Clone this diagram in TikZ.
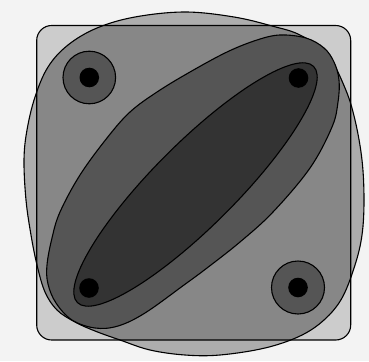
\documentclass[tikz,border=0pt]{standalone}
\definecolor{bgc}{HTML}{F3F3F3}
\definecolor{sqc}{HTML}{CCCCCC}
\definecolor{blobc}{HTML}{ADADAD}
\definecolor{ovc}{HTML}{878787}
\definecolor{lobec}{HTML}{555555}
\definecolor{lensc}{HTML}{333333}
\tikzset{
  outline/.style={draw=black, line width=1.1pt, line join=round},
}
\newcommand\blobpath{plot[smooth cycle, tension=0.6] coordinates {
 (185,12) (234,17) (272,26) (300,35) (327,54) (345,88) (355,120) (362,160)
 (364,200) (362,235) (355,265) (342,298) (324,320) (300,336) (265,348)
 (220,355) (185,355) (150,350) (120,340) (95,331) (75,322) (57,310)
 (45,292) (37,265) (31,235) (26,200) (24,160) (27,130) (35,97) (48,67)
 (68,45) (97,28) (135,17)}}
\newcommand\squarepath{[rounded corners=15pt] (36.7,25.5) rectangle (350.7,340)}
\begin{document}
\begin{tikzpicture}[x=1pt,y=-1pt]
\useasboundingbox (0,0) rectangle (369,361);
\fill[bgc] (0,0) rectangle (369,361);
% square and blob fills
\fill[sqc] \squarepath;
\fill[blobc] \blobpath;
\begin{scope}
  \clip \squarepath;
  \fill[ovc] \blobpath;
\end{scope}
\path[outline] \squarepath;
\path[outline] \blobpath;
% diagonal lobe
\path[outline, fill=lobec] plot[smooth cycle, tension=0.6] coordinates {
 (280,35) (306,38) (324,48) (334,62) (339,80) (338,102) (332,127) (310,168)
 (273,212) (240,242) (207,268) (184,285) (145,313) (118,326) (95,328)
 (72,320) (56,303) (48,284) (47,265) (52,238) (60,212) (80,175) (107,138)
 (130,112) (157,92) (190,72) (227,52) (257,40)};
% inner lens
\coordinate (lc) at (195.5,184.5);
\path[outline, fill=lensc, rotate around={45:(lc)}] (lc) ellipse [x radius=167, y radius=41.5];
% small circles and dots
\coordinate (tl) at (89.3,77.5);
\coordinate (tr) at (298.5,78);
\coordinate (bl) at (89,288);
\coordinate (br) at (298,287.5);
\path[outline, fill=lobec] (tl) circle[radius=26.3];
\path[outline, fill=lobec] (br) circle[radius=26.5];
\foreach \p in {tl,tr,bl,br} \fill[black] (\p) circle[radius=9.8];
\end{tikzpicture}
\end{document}
